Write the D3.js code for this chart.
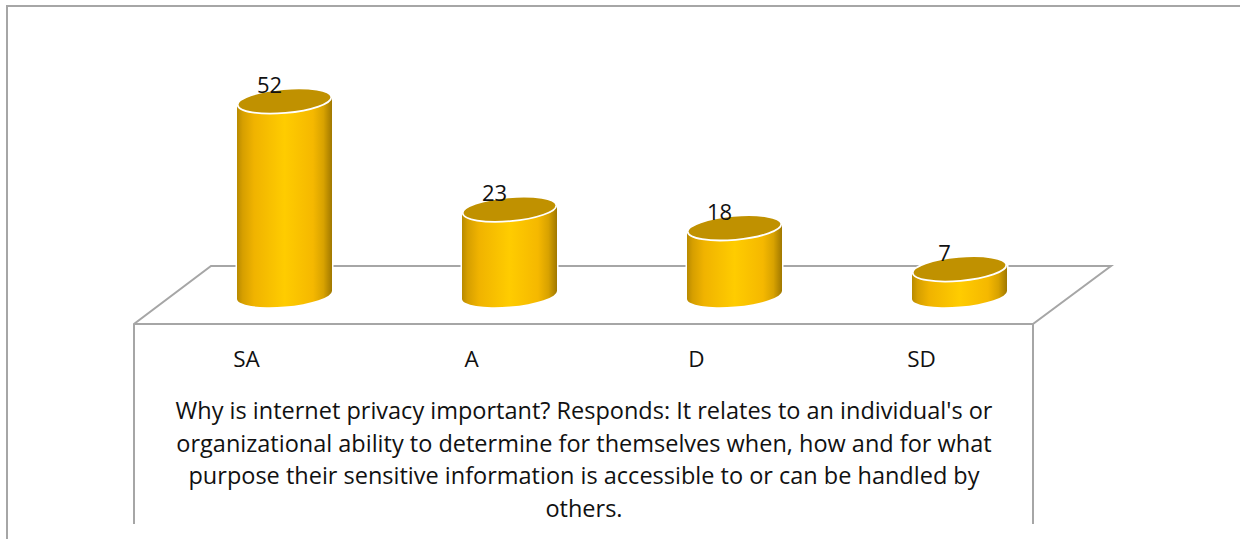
<!DOCTYPE html>
<html><head><meta charset="utf-8">
<script src="https://cdn.jsdelivr.net/npm/d3@7"></script>
<style>html,body{margin:0;background:#fff}svg{display:block}text{font-family:"Open Sans",sans-serif;fill:#111}</style>
</head><body><svg width="1240" height="539"></svg>
<script>
const categories=["SA","A","D","SD"];
const values=[52,23,18,7];
const titleLines=["Why is internet privacy important? Responds: It relates to an individual's or","organizational ability to determine for themselves when, how and for what","purpose their sensitive information is accessible to or can be handled by","others."];
const svg=d3.select("svg");
const x=d3.scalePoint().domain(categories).range([284.5,959.5]);
const y=d3.scaleLinear().domain([0,52]).range([295,101]);
const rx=47.5,ry=11.5,tilt=-5;
const defs=svg.append("defs");
const g=defs.append("linearGradient").attr("id","cyl");
[[0,"#b88a00"],[.06,"#d69f00"],[.18,"#f0b300"],[.5,"#ffcc00"],[.8,"#f5b800"],[.91,"#d8a200"],[1,"#a07800"]].forEach(s=>g.append("stop").attr("offset",s[0]).attr("stop-color",s[1]));
const gray="#a6a6a6";
svg.append("path").attr("d","M7,539V6H1240").attr("fill","none").attr("stroke",gray).attr("stroke-width",2);
svg.append("path").attr("d","M134,524V324L211,266H1111L1033,324V524M134,324H1033").attr("fill","none").attr("stroke",gray).attr("stroke-width",2);
const dy=4;
const bars=svg.selectAll("g.bar").data(categories.map((c,i)=>({c,v:values[i]}))).join("g").attr("class","bar");
bars.append("path").attr("fill","#fff").attr("stroke","#fff").attr("stroke-width",3).attr("d",d=>{
  const cx=x(d.c),t=y(d.v),b=y(0);
  return `M${cx-rx},${t+dy}L${cx-rx},${b+dy}L${cx+rx},${b-dy}L${cx+rx},${t-dy}Z`;
});
bars.append("path").attr("fill","url(#cyl)").attr("d",d=>{
  const cx=x(d.c),t=y(d.v),b=y(0);
  const a=`${rx} ${ry} ${tilt}`;
  return `M${cx-rx},${t+dy}L${cx-rx},${b+dy}A${a} 0 0 ${cx+rx},${b-dy}L${cx+rx},${t-dy}Z`;
});
bars.append("ellipse").attr("rx",rx-.5).attr("ry",ry+.5).attr("fill","#c09100").attr("stroke","#fff").attr("stroke-width",1.8)
 .attr("transform",d=>`translate(${x(d.c)},${y(d.v)}) rotate(${tilt})`);
bars.append("text").attr("x",d=>x(d.c)-15).attr("y",d=>y(d.v)-8).attr("text-anchor","middle").attr("font-size",22).text(d=>d.v);
svg.selectAll("text.cat").data(categories).join("text").attr("class","cat").attr("x",d=>x(d)-38).attr("y",367).attr("text-anchor","middle").attr("font-size",22.5).text(d=>d);
svg.selectAll("text.t").data(titleLines).join("text").attr("class","t").attr("x",584).attr("y",(d,i)=>419+i*32.5).attr("text-anchor","middle").attr("font-size",23.5).text(d=>d);
</script></body></html>
